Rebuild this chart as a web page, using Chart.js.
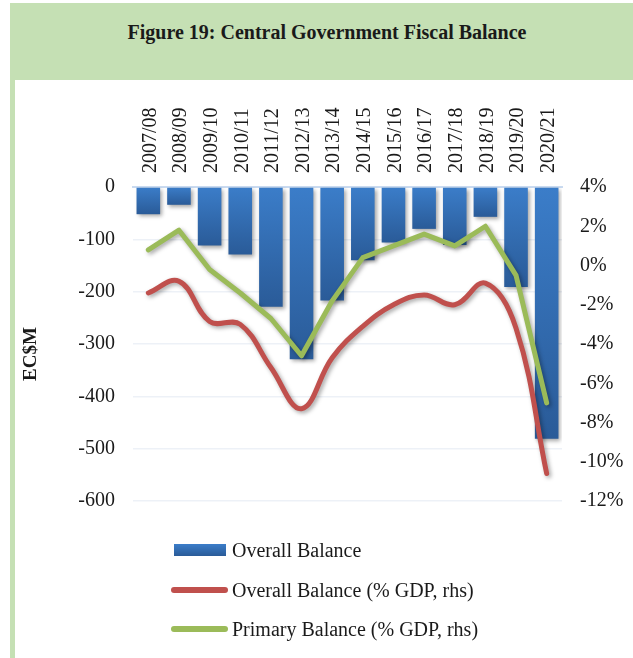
<!DOCTYPE html>
<html>
<head>
<meta charset="utf-8">
<script src="https://cdn.jsdelivr.net/npm/chart.js@4.4.1/dist/chart.umd.min.js"></script>
<style>
  html, body { margin: 0; padding: 0; background: #fff; overflow: hidden; }
  body { width: 633px; height: 658px; position: relative; font-family: "Liberation Serif", serif; color: #1a1a1a; }
  #header { position: absolute; left: 10px; top: 3px; width: 623px; height: 77px; background: #c5e0b4; }
  #strip { position: absolute; left: 10px; top: 80px; width: 5px; height: 578px; background: #c5e0b4; }
  #title { position: absolute; left: 0; top: 21px; width: 654px; text-align: center; font-weight: bold; font-size: 20px; }
  #chart { position: absolute; left: 0; top: 0; }
  .legend { position: absolute; left: 171px; font-size: 20px; height: 24px; line-height: 24px; }
  .legend .sw { position: absolute; top: 50%; }
  .legend .bar { left: 3px; width: 52px; height: 12px; margin-top: -6px; background: linear-gradient(#3b7dc9, #2a5b98); }
  .legend .ln { left: 0; width: 57px; height: 6px; margin-top: -3px; border-radius: 3px; }
  .legend span { position: absolute; left: 61px; white-space: nowrap; }
</style>
</head>
<body>
<div id="header"></div>
<div id="strip"></div>
<div id="title">Figure 19: Central Government Fiscal Balance</div>
<canvas id="chart" width="633" height="658"></canvas>
<div class="legend" style="top:538px"><div class="sw bar"></div><span>Overall Balance</span></div>
<div class="legend" style="top:578px"><div class="sw ln" style="background:#c0504d"></div><span>Overall Balance (% GDP, rhs)</span></div>
<div class="legend" style="top:617px"><div class="sw ln" style="background:#9bbb59"></div><span>Primary Balance (% GDP, rhs)</span></div>
<script>
const categories = ['2007/08', '2008/09', '2009/10', '2010/11', '2011/12', '2012/13', '2013/14',
                    '2014/15', '2015/16', '2016/17', '2017/18', '2018/19', '2019/20', '2020/21'];
// EC$M
const overallBalance = [-52, -34, -112, -129, -229, -329, -217, -140, -106, -80, -111, -57, -191, -481];
// % of GDP, right-hand axis
const overallPctGdp = [-1.4, -0.8, -2.85, -3.0, -5.2, -7.3, -4.7, -3.1, -2.0, -1.5, -2.0, -0.9, -3.2, -10.6];
const primaryPctGdp = [0.8, 1.8, -0.2, -1.4, -2.7, -4.6, -1.8, 0.4, 1.0, 1.6, 1.0, 2.0, -0.5, -7.0];
const leftTicks = [0, -100, -200, -300, -400, -500, -600];
const rightTicks = [4, 2, 0, -2, -4, -6, -8, -10, -12];

const FONT = 'Liberation Serif';

// each bar gets its own light-to-dark gradient
function barFill(ctx) {
  const chart = ctx.chart;
  const y = chart.scales.y;
  if (!chart.chartArea || !y || ctx.dataIndex === undefined) return '#3267ad';
  const v = ctx.dataset.data[ctx.dataIndex];
  const top = y.getPixelForValue(0);
  const bottom = y.getPixelForValue(v);
  if (!isFinite(top) || !isFinite(bottom) || top === bottom) return '#3267ad';
  const g = chart.ctx.createLinearGradient(0, top, 0, bottom);
  g.addColorStop(0, '#3b7dc9');
  g.addColorStop(1, '#2a5b98');
  return g;
}

const shadowPlugin = {
  id: 'shadows',
  beforeDatasetDraw(chart) {
    const c = chart.ctx;
    c.save();
    c.shadowColor = 'rgba(0,0,0,0.35)';
    c.shadowBlur = 4;
    c.shadowOffsetX = 2;
    c.shadowOffsetY = 2;
  },
  afterDatasetDraw(chart) {
    chart.ctx.restore();
  }
};

const yTitlePlugin = {
  id: 'yTitle',
  afterDraw(chart) {
    const c = chart.ctx;
    c.save();
    c.translate(31, 354);
    c.rotate(-Math.PI / 2);
    c.font = 'bold 19px ' + FONT;
    c.fillStyle = '#1a1a1a';
    c.textAlign = 'center';
    c.textBaseline = 'middle';
    c.fillText('EC$M', 0, 0);
    c.restore();
  }
};

new Chart(document.getElementById('chart'), {
  type: 'bar',
  data: {
    labels: categories,
    datasets: [
      {
        label: 'Overall Balance',
        data: overallBalance,
        backgroundColor: barFill,
        barPercentage: 0.77,
        categoryPercentage: 1,
        yAxisID: 'y',
        order: 3
      },
      {
        type: 'line',
        label: 'Overall Balance (% GDP, rhs)',
        data: overallPctGdp,
        borderColor: '#c0504d',
        borderWidth: 5,
        tension: 0.4,
        pointRadius: 0,
        borderCapStyle: 'round',
        borderJoinStyle: 'round',
        fill: false,
        yAxisID: 'y1',
        order: 2
      },
      {
        type: 'line',
        label: 'Primary Balance (% GDP, rhs)',
        data: primaryPctGdp,
        borderColor: '#9bbb59',
        borderWidth: 5,
        tension: 0,
        pointRadius: 0,
        borderCapStyle: 'round',
        borderJoinStyle: 'round',
        fill: false,
        yAxisID: 'y1',
        order: 1
      }
    ]
  },
  options: {
    responsive: false,
    animation: false,
    devicePixelRatio: 1,
    layout: { padding: { left: 15, top: 88, right: 0, bottom: 157 } },
    plugins: {
      legend: { display: false },
      tooltip: { enabled: false }
    },
    scales: {
      x: {
        position: 'top',
        grid: { display: false, drawTicks: false },
        border: { display: true, color: '#c9daf0', width: 2 },
        ticks: {
          color: '#1a1a1a',
          font: { family: FONT, size: 20 },
          minRotation: 90,
          maxRotation: 90,
          autoSkip: false,
          padding: 14,
          labelOffset: 26
        },
        afterFit(s) { s.height = 99; }
      },
      y: {
        position: 'left',
        min: -600,
        max: 0,
        afterBuildTicks(s) { s.ticks = leftTicks.map(v => ({ value: v })); },
        grid: { color: '#edf1f7', lineWidth: 1.5, drawTicks: false },
        border: { display: false },
        ticks: {
          color: '#1a1a1a',
          font: { family: FONT, size: 20 },
          padding: 18,
          callback: v => String(v)
        },
        afterFit(s) { s.width = 118; }
      },
      y1: {
        position: 'right',
        min: -12,
        max: 4,
        afterBuildTicks(s) { s.ticks = rightTicks.map(v => ({ value: v })); },
        grid: { drawOnChartArea: false, drawTicks: false },
        border: { display: false },
        ticks: {
          color: '#1a1a1a',
          font: { family: FONT, size: 20 },
          padding: 18,
          callback: v => v + '%'
        },
        afterFit(s) { s.width = 71; }
      }
    }
  },
  plugins: [shadowPlugin, yTitlePlugin]
});
</script>
</body>
</html>
